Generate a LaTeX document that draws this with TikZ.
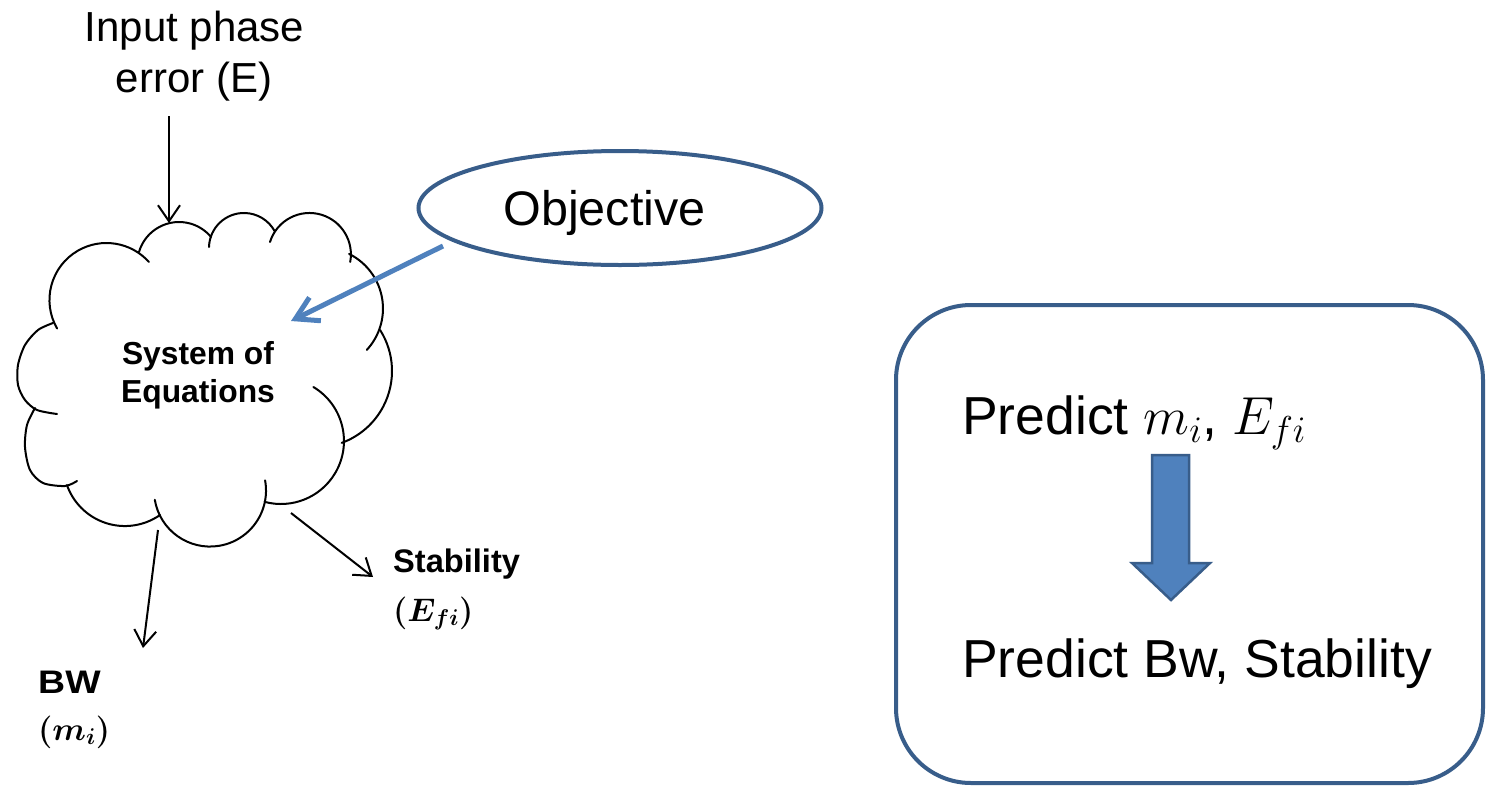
\RequirePackage{fix-cm}
\documentclass[tikz,border=0pt]{standalone}
\usepackage{fontspec}
\setmainfont{Liberation Sans}
\usepackage{bm}
\usetikzlibrary{arrows.meta,shapes.geometric}
\definecolor{cdark}{RGB}{56,93,138}
\definecolor{clight}{RGB}{79,129,189}
\newcommand\fIn{\fontsize{42}{50}\selectfont}
\newcommand\fSys{\fontsize{31.8}{38}\selectfont\bfseries}
\newcommand\fLab{\fontsize{32.6}{38}\selectfont\bfseries}
\newcommand\fObj{\fontsize{48.5}{55}\selectfont}
\newcommand\fBig{\fontsize{53.5}{64}\selectfont}
\begin{document}
\begin{tikzpicture}[x=1pt,y=-1pt,
  txt/.style={inner sep=0pt},
  cloudline/.style={line width=2pt, line cap=round},
  blk/.style={line width=2pt, -{Straight Barb[length=16pt,width=22pt]}},
  bluearr/.style={line width=5pt, draw=clight, -{Straight Barb[length=22pt,width=26pt]}}]
\useasboundingbox (0,0) rectangle (1486,785);
\fill[white] (0,0) rectangle (1486,785);

% input text
\node[txt, font=\fIn, anchor=base] (in1) at (194.5,41.7) {Input phase};
\node[txt, font=\fIn, anchor=base] (in2) at (194,92) {error (E)};

% cloud (bumps as arcs, y axis pointing down)
\draw[cloudline] (57.1,328.5) arc[start angle=150, end angle=318.2, radius=57];
\draw[cloudline] (139.0,252.0) arc[start angle=-163.7, end angle=-39.8, radius=41.7];
\draw[cloudline] (209.0,247.0) arc[start angle=-178.4, end angle=-28.7, radius=35];
\draw[cloudline] (270.0,242.0) arc[start angle=-162.6, end angle=10.6, radius=41.4];
\draw[cloudline] (349.1,253.9) arc[start angle=-63.6, end angle=42.7, radius=61];
\draw[cloudline] (380.1,330.0) arc[start angle=-32.4, end angle=70, radius=76.5];
\draw[cloudline] (313.4,387.0) arc[start angle=-59, end angle=105, radius=63];
\draw[cloudline] (154.8,499.8) arc[start angle=170.5, end angle=-10.5, radius=56];
\draw[cloudline] (160.0,515.0) arc[start angle=55.1, end angle=160.6, radius=61.4];
\draw[cloudline] plot[smooth] coordinates {(35,408) (27,425) (25,447) (30,470) (43,483) (65,486) (77,481)};
\draw[cloudline] plot[smooth] coordinates {(53,323) (38,330) (25,345) (18,365) (18,385) (25,400) (37,410) (57,414)};

\node[txt, font=\fSys, anchor=base] (sys1) at (198,364) {System of};
\node[txt, font=\fSys, anchor=base] (sys2) at (198,402) {Equations};

% outputs
\node[txt, font=\fLab, anchor=base west] (stab) at (393,572) {Stability};
\node[txt, font=\fLab, anchor=base west] (stabm) at (393,621) {$\bm{(E_{fi})}$};
\node[txt, font=\fLab, anchor=base west] (bw) at (38,693) {\scalebox{1.15}[1]{BW}};
\node[txt, font=\fLab, anchor=base west] (bwm) at (38,740) {$\bm{(m_i)}$};

% objective
\node[draw=cdark, line width=4pt, ellipse, minimum width=403pt, minimum height=114pt] (obj) at (620,208) {};
\node[txt, font=\fObj, anchor=base] (objt) at (604.5,225) {Objective};

% connectors
\coordinate (inA) at (169,116);
\coordinate (inB) at (169,223);
\draw[blk] (inA) -- (inB);
\coordinate (bwA) at (158,530);
\coordinate (bwB) at (143,648);
\draw[blk] (bwA) -- (bwB);
\coordinate (stA) at (291,513);
\coordinate (stB) at (373,577);
\draw[blk] (stA) -- (stB);
\coordinate (obA) at (443,246);
\coordinate (obB) at (291,321);
\draw[bluearr] (obA) -- (obB);

% right box
\node[draw=cdark, line width=4pt, rounded corners=75pt, minimum width=587pt, minimum height=478pt] (box) at (1189.5,544) {};
\node[txt, font=\fBig, anchor=base west] (p1) at (962,434) {Predict $m_i$, $E_{fi}$};
\node[txt, font=\fBig, anchor=base west] (p2) at (962,677) {Predict Bw, Stability};
\draw[line width=2.5pt, draw=cdark, fill=clight, line join=miter]
  (1152,455) -- (1189,455) -- (1189,563) -- (1210,563) -- (1171,600) -- (1132,563) -- (1152,563) -- cycle;
\end{tikzpicture}
\end{document}
